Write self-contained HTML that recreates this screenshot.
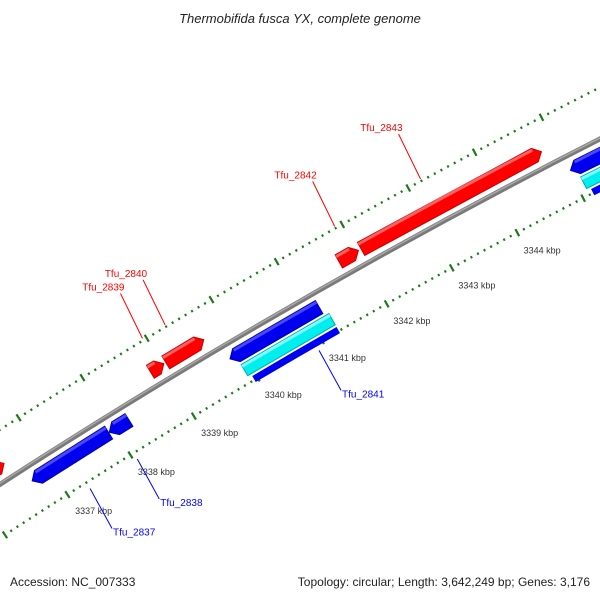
<!DOCTYPE html>
<html><head><meta charset="utf-8"><style>
html,body{margin:0;padding:0;background:#fff;}
svg{display:block;font-family:"Liberation Sans",sans-serif;}
</style></head><body>
<svg id="map" width="600" height="600" viewBox="0 0 600 600">
<text x="300" y="23" text-anchor="middle" font-size="13" font-style="italic" fill="#222">Thermobifida fusca YX, complete genome</text>
<text x="10" y="586" font-size="12" fill="#222">Accession: NC_007333</text>
<text x="590" y="586" font-size="12" fill="#222" text-anchor="end">Topology: circular; Length: 3,642,249 bp; Genes: 3,176</text>
<g id="plot"></g>
</svg>
<script>
// data (kbp)
const geneNames = ["Tfu_2836","Tfu_2837","Tfu_2838","Tfu_2839","Tfu_2840","Tfu_2841","Tfu_2841b","Tfu_2842","Tfu_2843","Tfu_2844","Tfu_2844b"];
const geneStarts = [3335.0, 3336.70, 3337.92, 3338.81, 3339.05, 3339.81, 3339.90, 3341.72, 3342.06, 3345.02, 3345.10];
const geneEnds   = [3336.51, 3337.91, 3338.23, 3339.02, 3339.64, 3341.19, 3341.26, 3342.02, 3344.79, 3347.0, 3347.0];
const geneStrand = [1, -1, -1, 1, 1, -1, -2, 1, 1, -1, -2];
const labelNames = ["Tfu_2843","Tfu_2842","Tfu_2840","Tfu_2839","Tfu_2841","Tfu_2838","Tfu_2837"];
const labelKbp   = [3343.2, 3341.9, 3339.3, 3338.95, 3340.9, 3338.05, 3337.3];
const tickStart = 3335.0, tickEnd = 3347.0;
const majorLabels = [3337,3338,3339,3340,3341,3342,3343,3344];

const NS="http://www.w3.org/2000/svg";
const CX=3614, CY=6069;
const R_BACK=6652, R_OUT=6698, R_IN=6607;
function ang(k){return (-120.53+(k-3340)*0.645)*Math.PI/180;}
function pt(k,r){const a=ang(k);return [CX+r*Math.cos(a),CY+r*Math.sin(a)];}
const g=document.getElementById('plot');
function mk(tag,attrs){const e=document.createElementNS(NS,tag);for(const k in attrs)e.setAttribute(k,attrs[k]);g.appendChild(e);return e;}

// backbone
function arcPath(k0,k1,r){const a=pt(k0,r),b=pt(k1,r);return `M${a[0]},${a[1]} A${r},${r} 0 0 1 ${b[0]},${b[1]}`;}
let bb=mk('path',{d:arcPath(3334,3348,R_BACK),stroke:'#7a7a7a','stroke-width':5,fill:'none'});


let bb2=mk('path',{d:arcPath(3334,3348,R_BACK+1),stroke:'#a8a8a8','stroke-width':1.5,fill:'none'});



// ticks
for(let i=0;;i++){
  const k=tickStart+i*0.1; if(k>tickEnd+1e-6)break;
  const major=Math.abs(k-Math.round(k))<1e-6;
  const len=major?4:1.2;
  [R_OUT,R_IN].forEach((r,j)=>{
    const a=pt(k,r-len),b=pt(k,r+len);
    const t=mk('line',{x1:a[0],y1:a[1],x2:b[0],y2:b[1],stroke:'#1a7a1a','stroke-width':major?2.2:2});
    
    
  });
}
majorLabels.forEach(k=>{
  const p=pt(k+0.03,R_IN-20);
  const t=mk('text',{x:p[0]-5,y:p[1]+4,'font-size':9,fill:'#333'});
  t.textContent=k+' kbp';
  
  
});

// genes
function geneRadii(s){
  if(s===1)return [6660,6675];
  if(s===-1)return [6630,6645];
  return [6614,6627];
}
const arrowK=0.1;
geneNames.forEach((n,i)=>{
  const [r0,r1]=geneRadii(geneStrand[i]);
  const s=geneStarts[i],e=geneEnds[i],rm=(r0+r1)/2;
  let pts=[];
  if(geneStrand[i]===1){
    const ae=Math.max(s,e-arrowK);
    pts=[pt(s,r0),pt(ae,r0),pt(e,rm),pt(ae,r1),pt(s,r1)];
  }else if(geneStrand[i]===-1){
    const as=Math.min(e,s+arrowK);
    pts=[pt(s,rm),pt(as,r0),pt(e,r0),pt(e,r1),pt(as,r1)];
  }else{
    pts=[pt(s,r0),pt(e,r0),pt(e,r1),pt(s,r1)];
  }
  const col=geneStrand[i]===1?'#ff0000':(geneStrand[i]===-1?'#0000ee':'#00eeee');
  const dark=geneStrand[i]===1?'#c80000':(geneStrand[i]===-1?'#0000aa':'#00aaaa');
  const p=mk('polygon',{points:pts.map(q=>q.join(',')).join(' '),fill:col,stroke:dark,'stroke-width':1});
  
  
  const hl=mk('path',{d:arcPath(s+ (geneStrand[i]===-1?arrowK:0),e-(geneStrand[i]===1?arrowK:0),r1-2),stroke:geneStrand[i]===1?'#ff6060':(geneStrand[i]===-1?'#4848ff':'#80ffff'),'stroke-width':3,fill:'none'});
  
  
  if(geneStrand[i]===-2){
    const u=mk('path',{d:arcPath(s+0.05,e,6608),stroke:'#0000ee','stroke-width':7,fill:'none'});
    
    
  }
});

// labels
const labelOff=[[-22,-45],[-22,-45],[-22,-45],[-22,-45],[22,40],[22,40],[22,40]];
labelNames.forEach((n,i)=>{
  const k=labelKbp[i];
  const fwd=i<4;
  const base=pt(k,fwd?6700:6600);
  const o=labelOff[i];
  const end=[base[0]+o[0],base[1]+o[1]];
  const col=fwd?'#ff0000':'#0000ff';
  const l=mk('line',{x1:base[0],y1:base[1],x2:end[0],y2:end[1],stroke:col,'stroke-width':1});
  
  
  const t=mk('text',{x:fwd?end[0]+4:end[0]+1,y:fwd?end[1]-3:end[1]+7,'font-size':10,fill:col,'text-anchor':fwd?'end':'start'});
  t.textContent=n;
  
  
});
</script>
</body></html>
